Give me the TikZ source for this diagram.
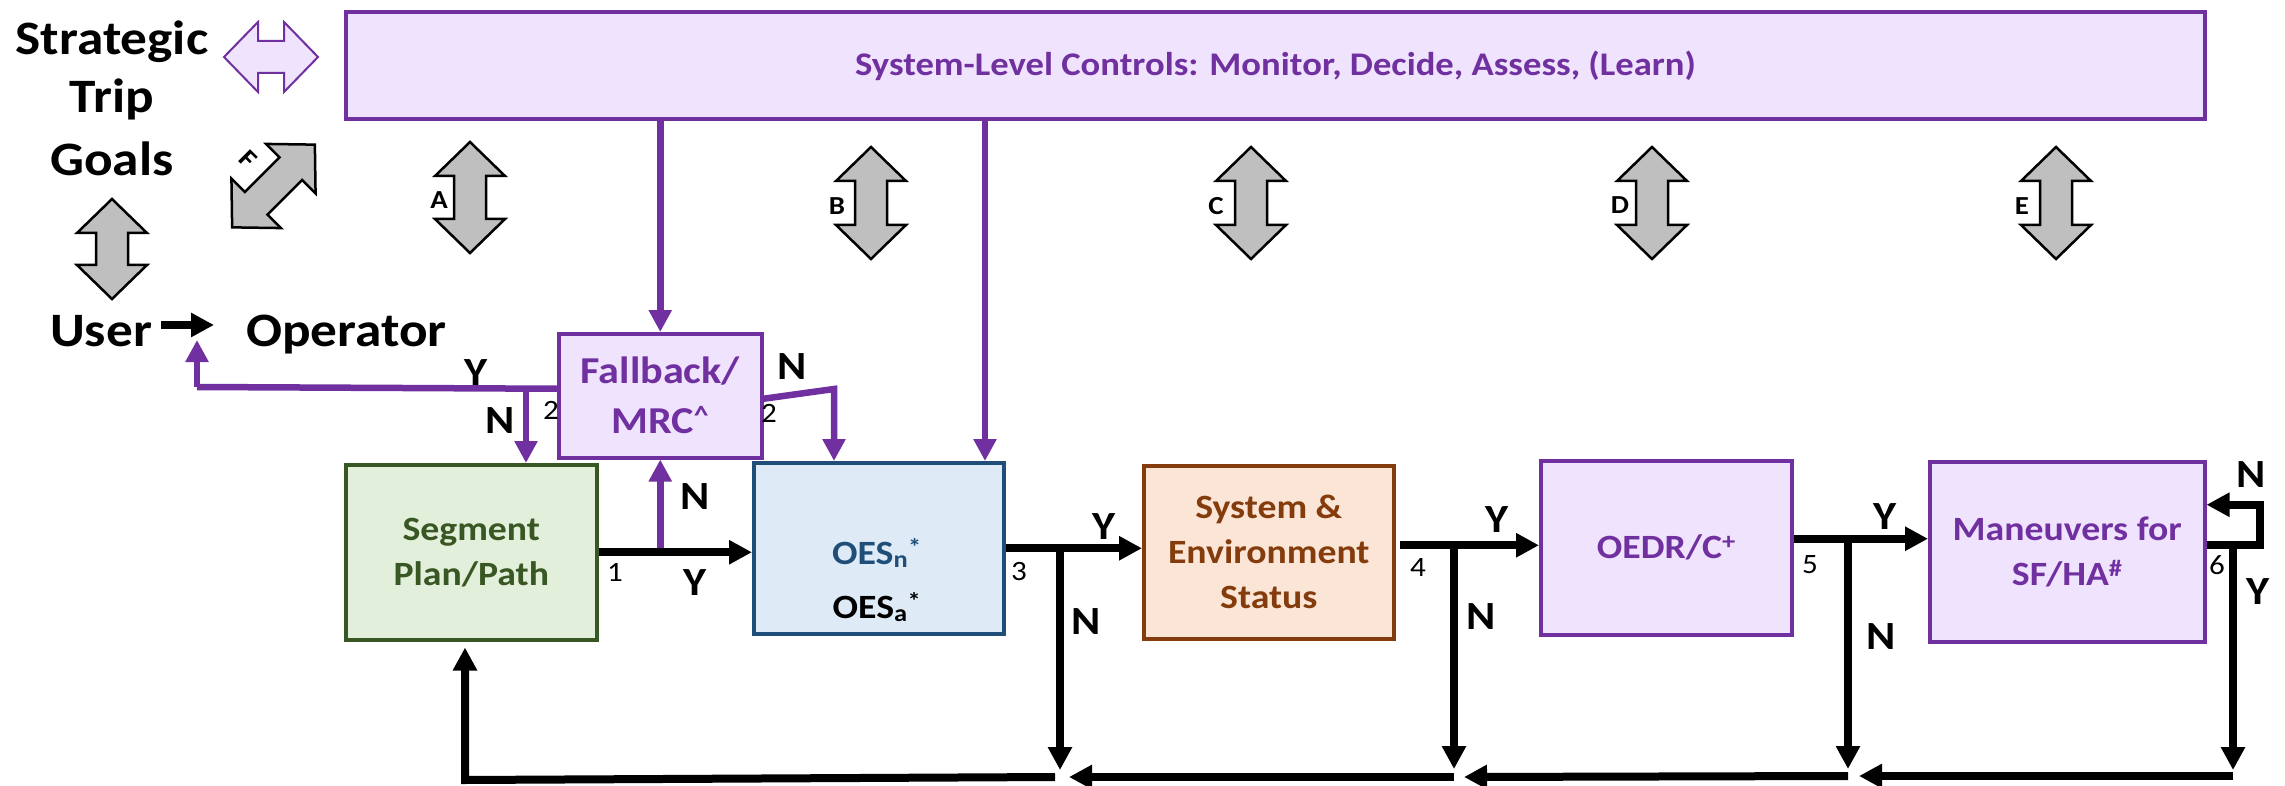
\documentclass[tikz,border=0pt]{standalone}
\usepackage{fontspec}
\setmainfont{Carlito}[FakeStretch=1.11]
\usetikzlibrary{arrows.meta,calc}

\definecolor{pur}{HTML}{7030A0}
\definecolor{purfill}{HTML}{EFE3FD}
\definecolor{grn}{HTML}{385723}
\definecolor{grnfill}{HTML}{E2EFDA}
\definecolor{blu}{HTML}{1F4E79}
\definecolor{blufill}{HTML}{DEEBF7}
\definecolor{brn}{HTML}{843C0C}
\definecolor{brnfill}{HTML}{FBE5D6}
\definecolor{gryfill}{HTML}{BFBFBF}

\newcommand\fntbig{\fontsize{48}{63}\selectfont\bfseries}
\newcommand\fnttop{\fontsize{33}{40}\selectfont\bfseries}
\newcommand\fntbox{\fontsize{34}{45}\selectfont\bfseries}
\newcommand\fntoes{\fontsize{34}{54}\selectfont\bfseries}
\newcommand\fntfb{\fontsize{38}{50}\selectfont\bfseries}
\newcommand\fntyn{\fontsize{40}{48}\selectfont\bfseries}
\newcommand\fntnum{\fontsize{28}{34}\selectfont}
\newcommand\fntlet{\fontsize{26}{30}\selectfont\bfseries}

% double-headed block arrow: centre x, centre y, half length, rotation, style
\newcommand\blockarr[5]{%
  \begin{scope}[shift={(#1,#2)},rotate=#4]
    \draw[#5] (0,-#3) -- (35,-#3+34) -- (16,-#3+34) -- (16,#3-34) -- (35,#3-34)
      -- (0,#3) -- (-35,#3-34) -- (-16,#3-34) -- (-16,-#3+34) -- (-35,-#3+34) -- cycle;
  \end{scope}}

\begin{document}
\begin{tikzpicture}[x=1pt,y=-1pt,
  box/.style={draw, line width=3.5pt, inner sep=0pt, align=center, anchor=north west},
  barr/.style={line width=8pt, -{Triangle[length=23pt,width=23pt]}},
  bline/.style={line width=8pt},
  parr/.style={draw=pur, line width=6.5pt, -{Triangle[length=22pt,width=22pt]}},
  pline/.style={draw=pur, line width=6.5pt},
  gblk/.style={draw=black, fill=gryfill, line width=2.5pt, line join=miter},
  pblk/.style={draw=pur, fill=purfill, line width=2pt, line join=miter},
  yn/.style={font=\fntyn, inner sep=0pt},
  num/.style={font=\fntnum, inner sep=0pt},
  lbl/.style={font=\fntlet, inner sep=0pt}]
\useasboundingbox (0,0) rectangle (2285,786);

% ---------- left-hand texts and block arrows ----------
\node[font=\fntbig, align=center, inner sep=0pt] (goals) at (112,98.5) {Strategic\\[-5pt]Trip\\Goals};
\node[font=\fntbig, anchor=base west, inner sep=0pt] (user) at (50,346) {User};
\node[font=\fntbig, anchor=base west, inner sep=0pt] (oper) at (246,346) {Operator};

\blockarr{271}{57}{47}{90}{pblk}
\blockarr{112}{249}{50}{0}{gblk}
\blockarr{273.5}{186}{58.5}{-45}{gblk}
\node[lbl, rotate=-45] (lf) at (248,159) {F};

\blockarr{470}{197.5}{55.5}{0}{gblk}
\blockarr{871}{203}{56}{0}{gblk}
\blockarr{1251}{203}{56}{0}{gblk}
\blockarr{1652}{203}{56}{0}{gblk}
\blockarr{2056}{203}{56}{0}{gblk}
\node[lbl] (la) at (439,200) {A};
\node[lbl] (lb) at (837,206) {B};
\node[lbl] (lc) at (1216,206) {C};
\node[lbl] (ld) at (1620,205) {D};
\node[lbl] (le) at (2022,206) {E};

% ---------- boxes ----------
\node[box, draw=pur, fill=purfill, line width=4pt, minimum width=1859pt, minimum height=107pt,
      text=pur, font=\fnttop] (top) at (344,10) {System-Level Controls: Monitor, Decide, Assess, (Learn)};
\node[box, draw=pur, fill=purfill, minimum width=203pt, minimum height=124pt,
      text=pur, font=\fntfb] (fb) at (557,332) {Fallback/\\MRC\textsuperscript{\textasciicircum}};
\node[box, draw=grn, fill=grnfill, minimum width=251pt, minimum height=175pt,
      text=grn, font=\fntbox] (seg) at (344,463) {Segment\\Plan/Path};
\node[box, draw=blu, fill=blufill, minimum width=250pt, minimum height=171pt] (oes) at (752,461) {};
\node[font=\fntoes, align=center, inner sep=0pt] (oestxt) at (877,580)
      {\textcolor{blu}{OES\textsubscript{n}\textsuperscript{*}}\\OES\textsubscript{a}\textsuperscript{*}};
\node[box, draw=brn, fill=brnfill, minimum width=250pt, minimum height=173pt,
      text=brn, font=\fntbox] (sys) at (1142,464) {System \&\\Environment\\Status};
\node[box, draw=pur, fill=purfill, minimum width=251pt, minimum height=174pt,
      text=pur, font=\fntbox] (oedr) at (1539,459) {OEDR/C\textsuperscript{+}};
\node[box, draw=pur, fill=purfill, minimum width=275pt, minimum height=180pt,
      text=pur, font=\fntbox] (man) at (1928,460) {Maneuvers for\\SF/HA\textsuperscript{\#}};

% ---------- helper coordinates ----------
\coordinate (ua) at (161,325);
\coordinate (ub) at (214,325);
\coordinate (pl1) at (197,387);
\coordinate (pl2) at (197,340);
\coordinate (pnb) at (526,387);
\coordinate (pn2) at (834,389);
\coordinate (po) at (985,0);
\coordinate (x3) at (1060,777);
\coordinate (x4) at (1454,777);
\coordinate (x5) at (1848,776);
\coordinate (x6) at (2233,776);
\coordinate (xl) at (465,780);
\coordinate (s4) at ($(sys.east)+(4,-7)$);
\coordinate (s5) at ($(oedr.east)+(0,-9)$);
\coordinate (s6) at ($(man.east)+(0,-7)$);
\coordinate (m6) at ($(man.east)+(0,-47)$);

% ---------- user to operator ----------
\draw[barr] (ua) -- (ub);

% ---------- purple connectors ----------
\draw[parr] (top.south -| fb.north) -- (fb.north);
\draw[parr] (po |- top.south) -- (po |- oes.north);
\draw[pline] ($(fb.west)+(0,-7)$) -- (pl1);
\draw[parr] (pl1) -- (pl2);
\draw[parr] (pnb) -- (pnb |- seg.north);
\draw[parr] (fb.south |- seg.east) -- (fb.south);
\draw[parr] ($(fb.east)+(0,3)$) -- (pn2) -- (pn2 |- oes.north);

% ---------- black forward chain ----------
\draw[barr] (seg.east) -- (seg.east -| oes.west);
\draw[barr] (oes.east) -- (oes.east -| sys.west);
\draw[barr] (s4) -- (s4 -| oedr.west);
\draw[barr] (s5) -- (s5 -| man.west);
\draw[barr] (s6) -- ++(53,0) |- (m6);

% ---------- N / return paths ----------
\draw[barr] (oes.east -| x3) -- ($(x3)+(0,-7)$);
\draw[barr] (s4 -| x4) -- ($(x4)+(0,-8)$);
\draw[barr] (s5 -| x5) -- ($(x5)+(0,-7)$);
\draw[barr] (s6 -| x6) -- ($(x6)+(0,-6)$);
\draw[barr] (x6) -- ($(x5)+(11,0)$);
\draw[barr] (x5) -- ($(x4)+(10,0)$);
\draw[barr] (x4) -- ($(x3)+(9,0)$);
\draw[barr] ($(x3)+(-5,0)$) -- (xl) -- ($(seg.south -| xl)+(0,6)$);

% ---------- Y / N and step labels ----------
\node[yn] (y0) at (476,373) {Y};
\node[yn] (n0) at (500,421) {N};
\node[num] (c2a) at (551,410) {2};
\node[yn] (n1) at (792,367) {N};
\node[num] (c2b) at (769,413) {2};
\node[yn] (n2) at (695,497) {N};
\node[num] (c1) at (615,572) {1};
\node[yn] (y1) at (695,583) {Y};
\node[num] (c3) at (1019,572) {3};
\node[yn] (y3) at (1104,527) {Y};
\node[yn] (n3) at (1086,622) {N};
\node[num] (c4) at (1418,568) {4};
\node[yn] (y4) at (1497,520) {Y};
\node[yn] (n4) at (1481,617) {N};
\node[num] (c5) at (1810,565) {5};
\node[yn] (y5) at (1885,517) {Y};
\node[yn] (n5) at (1881,637) {N};
\node[num] (c6) at (2217,565) {6};
\node[yn] (y6) at (2258,592) {Y};
\node[yn] (n6) at (2251,475) {N};
\end{tikzpicture}
\end{document}
